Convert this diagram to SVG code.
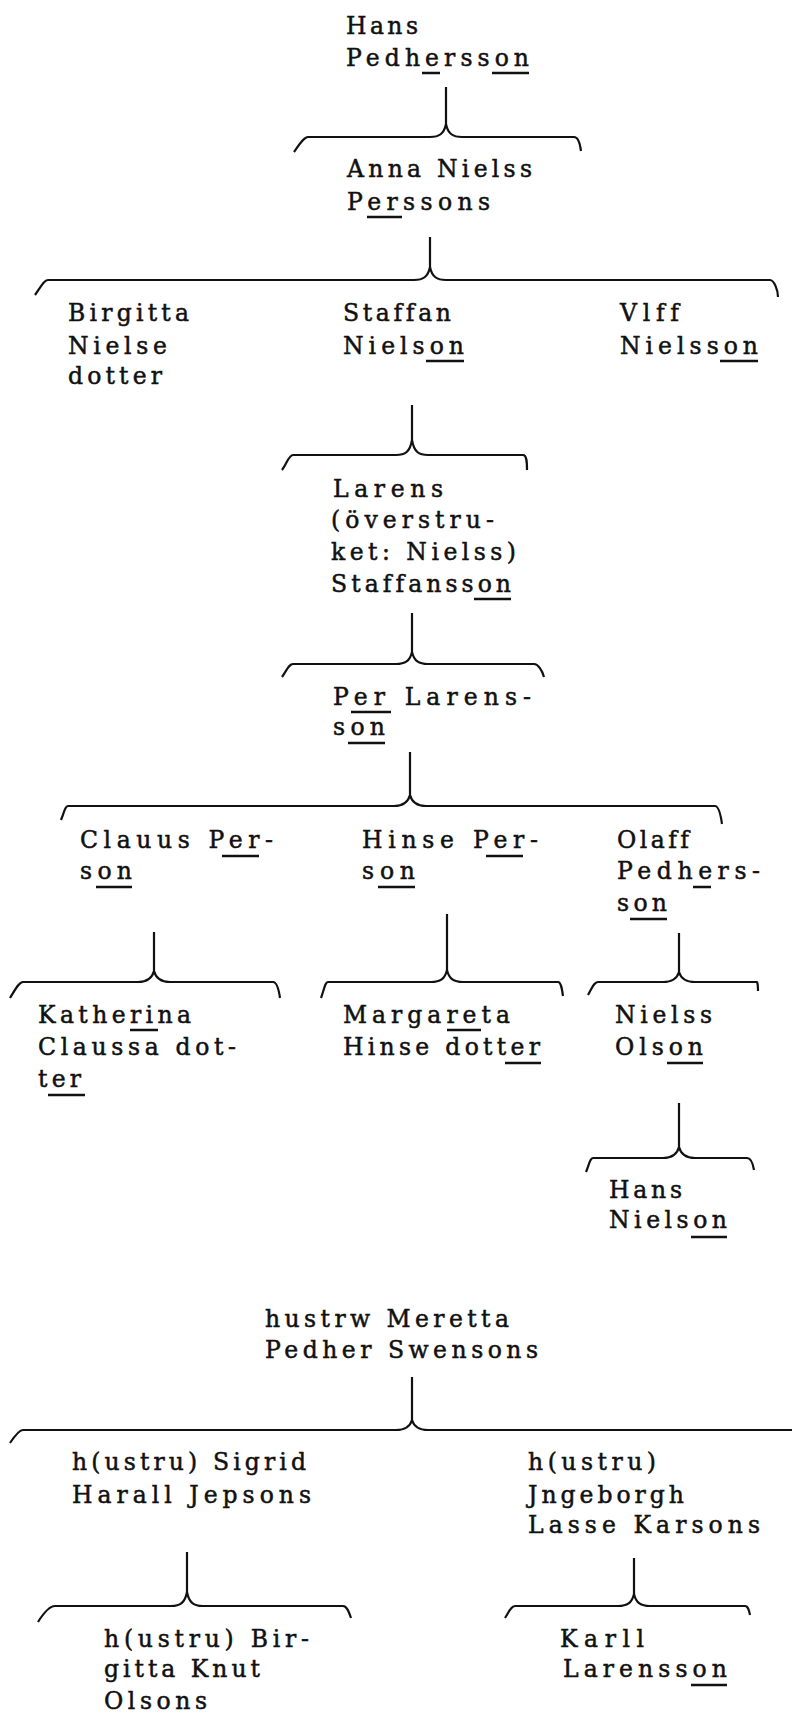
<svg xmlns="http://www.w3.org/2000/svg" width="792" height="1717" viewBox="0 0 792 1717">
<style>
.t{font-family:"DejaVu Serif","Liberation Serif",serif;font-size:23.5px;fill:#111;stroke:#111;stroke-width:0.5;font-variant-ligatures:none;font-feature-settings:"liga" 0,"clig" 0}
.u{stroke:#111;stroke-width:2.5;fill:none}
.b{stroke:#111;stroke-width:2.2;fill:none;stroke-linejoin:round}
</style>
<rect width="792" height="1717" fill="#fff"/>
<g id="connectors">
<path class="b" d="M294,152 C299,145 304,137 308,137 L430,137 C439,137 444,134 446,124 C448,134 453,137 462,137 L574,137 C578,137 580,143 581,151 M446,87 V124"/>
<path class="b" d="M35,295 C40,288 44,280 48,280 L414,280 C423,280 428,277 430,267 C432,277 437,280 446,280 L770,280 C774,280 778,290 778,297 M430,237 V267"/>
<path class="b" d="M282,470 C287,463 289,455 293,455 L396,455 C405,455 410,452 412,440 C414,452 419,455 428,455 L523,455 C527,455 527,463 527,470 M412,405 V440"/>
<path class="b" d="M282,677 C287,670 289,664 293,664 L396,664 C405,664 410,661 412,652 C414,661 419,664 428,664 L534,664 C538,664 542,670 544,677 M412,613 V652"/>
<path class="b" d="M61,820 C64,813 65,806 68,806 L394,806 C403,806 408,803 410,795 C412,803 417,806 426,806 L715,806 C719,806 721,817 722,824 M410,752 V795"/>
<path class="b" d="M10,998 C15,990 19,982 23,982 L138,982 C147,982 152,979 154,971 C156,979 161,982 170,982 L273,982 C277,982 279,991 280,998 M154,932 V971"/>
<path class="b" d="M321,998 C324,990 325,982 328,982 L431,982 C440,982 445,979 447,970 C449,979 454,982 463,982 L558,982 C561,982 562,989 563,996 M447,914 V970"/>
<path class="b" d="M588,995 C592,988 594,982 598,982 L663,982 C672,982 677,979 679,972 C681,979 686,982 695,982 L757,982 C758,984 758,988 758,991 M679,933 V972"/>
<path class="b" d="M586,1172 C589,1165 590,1158 593,1158 L663,1158 C672,1158 677,1155 679,1147 C681,1155 686,1158 695,1158 L747,1158 C751,1158 753,1164 754,1170 M679,1103 V1147"/>
<path class="b" d="M10,1443 C14,1437 19,1430 23,1430 L396,1430 C405,1430 410,1427 412,1420 C414,1427 419,1430 428,1430 L792,1430 M412,1377 V1420"/>
<path class="b" d="M38,1622 C43,1614 50,1606 55,1606 L171,1606 C180,1606 185,1603 187,1592 C189,1603 194,1606 203,1606 L343,1606 C347,1606 349,1612 351,1618 M187,1552 V1592"/>
<path class="b" d="M505,1618 C509,1612 511,1606 515,1606 L618,1606 C627,1606 632,1603 634,1594 C636,1603 641,1606 650,1606 L745,1606 C748,1606 749,1610 750,1615 M634,1558 V1594"/>
</g>
<g id="n-hans-pedhersson">
<text class="t" x="346" y="34" textLength="72" lengthAdjust="spacing">Hans</text>
<text class="t" x="346" y="66" textLength="183" lengthAdjust="spacing">Pedhersson</text>
<path class="u" d="M422,73 H440 M492,73 H529"/>
</g>
<g id="n-anna-nielss-perssons">
<text class="t" x="347" y="177" textLength="185" lengthAdjust="spacing">Anna Nielss</text>
<text class="t" x="347" y="210" textLength="143" lengthAdjust="spacing">Perssons</text>
<path class="u" d="M367,217 H402"/>
</g>
<g id="n-birgitta-nielse-dotter">
<text class="t" x="68" y="321" textLength="121" lengthAdjust="spacing">Birgitta</text>
<text class="t" x="68" y="354" textLength="99" lengthAdjust="spacing">Nielse</text>
<text class="t" x="68" y="384" textLength="94" lengthAdjust="spacing">dotter</text>
</g>
<g id="n-staffan-nielson">
<text class="t" x="343" y="321" textLength="108" lengthAdjust="spacing">Staffan</text>
<text class="t" x="343" y="354" textLength="121" lengthAdjust="spacing">Nielson</text>
<path class="u" d="M426,361 H464"/>
</g>
<g id="n-vlff-nielsson">
<text class="t" x="620" y="321" textLength="59" lengthAdjust="spacing">Vlff</text>
<text class="t" x="620" y="354" textLength="138" lengthAdjust="spacing">Nielsson</text>
<path class="u" d="M720,361 H758"/>
</g>
<g id="n-larens-staffansson">
<text class="t" x="333" y="497" textLength="110" lengthAdjust="spacing">Larens</text>
<text class="t" x="331" y="528" textLength="163" lengthAdjust="spacing">(överstru-</text>
<text class="t" x="331" y="560" textLength="185" lengthAdjust="spacing">ket: Nielss)</text>
<text class="t" x="331" y="592" textLength="180" lengthAdjust="spacing">Staffansson</text>
<path class="u" d="M474,599 H511"/>
</g>
<g id="n-per-larensson">
<text class="t" x="333" y="705" textLength="198" lengthAdjust="spacing">Per Larens-</text>
<text class="t" x="333" y="735" textLength="52" lengthAdjust="spacing">son</text>
<path class="u" d="M351,712 H391 M348,743 H385"/>
</g>
<g id="n-clauus-person">
<text class="t" x="80" y="848" textLength="193" lengthAdjust="spacing">Clauus Per-</text>
<text class="t" x="80" y="879" textLength="52" lengthAdjust="spacing">son</text>
<path class="u" d="M222,856 H259 M96,887 H132"/>
</g>
<g id="n-hinse-person">
<text class="t" x="362" y="848" textLength="176" lengthAdjust="spacing">Hinse Per-</text>
<text class="t" x="362" y="879" textLength="53" lengthAdjust="spacing">son</text>
<path class="u" d="M486,856 H523 M378,887 H415"/>
</g>
<g id="n-olaff-pedhersson">
<text class="t" x="617" y="848" textLength="72" lengthAdjust="spacing">Olaff</text>
<text class="t" x="617" y="879" textLength="143" lengthAdjust="spacing">Pedhers-</text>
<text class="t" x="617" y="911" textLength="50" lengthAdjust="spacing">son</text>
<path class="u" d="M693,887 H711 M630,919 H667"/>
</g>
<g id="n-katherina-claussa-dotter">
<text class="t" x="38" y="1023" textLength="153" lengthAdjust="spacing">Katherina</text>
<text class="t" x="38" y="1055" textLength="198" lengthAdjust="spacing">Claussa dot-</text>
<text class="t" x="38" y="1087" textLength="43" lengthAdjust="spacing">ter</text>
<path class="u" d="M130,1030 H158 M48,1095 H85"/>
</g>
<g id="n-margareta-hinse-dotter">
<text class="t" x="343" y="1023" textLength="167" lengthAdjust="spacing">Margareta</text>
<text class="t" x="343" y="1055" textLength="197" lengthAdjust="spacing">Hinse dotter</text>
<path class="u" d="M447,1030 H481 M505,1063 H541"/>
</g>
<g id="n-nielss-olson">
<text class="t" x="615" y="1023" textLength="97" lengthAdjust="spacing">Nielss</text>
<text class="t" x="615" y="1055" textLength="88" lengthAdjust="spacing">Olson</text>
<path class="u" d="M667,1063 H703"/>
</g>
<g id="n-hans-nielson">
<text class="t" x="609" y="1198" textLength="73" lengthAdjust="spacing">Hans</text>
<text class="t" x="609" y="1228" textLength="118" lengthAdjust="spacing">Nielson</text>
<path class="u" d="M691,1237 H727"/>
</g>
<g id="n-hustrw-meretta">
<text class="t" x="265" y="1327" textLength="244" lengthAdjust="spacing">hustrw Meretta</text>
<text class="t" x="265" y="1358" textLength="273" lengthAdjust="spacing">Pedher Swensons</text>
</g>
<g id="n-sigrid">
<text class="t" x="72" y="1470" textLength="234" lengthAdjust="spacing">h(ustru) Sigrid</text>
<text class="t" x="72" y="1503" textLength="239" lengthAdjust="spacing">Harall Jepsons</text>
</g>
<g id="n-jngeborgh">
<text class="t" x="528" y="1470" textLength="128" lengthAdjust="spacing">h(ustru)</text>
<text class="t" x="528" y="1503" textLength="156" lengthAdjust="spacing">Jngeborgh</text>
<text class="t" x="528" y="1533" textLength="232" lengthAdjust="spacing">Lasse Karsons</text>
</g>
<g id="n-birgitta-knut-olsons">
<text class="t" x="104" y="1647" textLength="205" lengthAdjust="spacing">h(ustru) Bir-</text>
<text class="t" x="104" y="1677" textLength="156" lengthAdjust="spacing">gitta Knut</text>
<text class="t" x="104" y="1709" textLength="103" lengthAdjust="spacing">Olsons</text>
</g>
<g id="n-karll-larensson">
<text class="t" x="560" y="1647" textLength="84" lengthAdjust="spacing">Karll</text>
<text class="t" x="563" y="1677" textLength="164" lengthAdjust="spacing">Larensson</text>
<path class="u" d="M691,1685 H727"/>
</g>
</svg>
